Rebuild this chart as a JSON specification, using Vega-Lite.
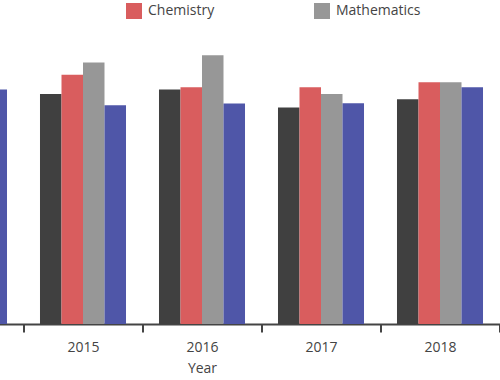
{
  "$schema": "https://vega.github.io/schema/vega-lite/v6.json",
  "width": 595,
  "height": 300,
  "autosize": {"type": "none"},
  "padding": {"left": -95.5, "top": 24, "right": 0, "bottom": 56},
  "background": "white",
  "config": {"view": {"stroke": null}, "font": "Open Sans"},
  "data": {
    "values": [
      {"Year": "2014", "Subject": "Physics", "Score": 75.0},
      {"Year": "2014", "Subject": "Chemistry", "Score": 80.0},
      {"Year": "2014", "Subject": "Mathematics", "Score": 84.0},
      {"Year": "2014", "Subject": "Biology", "Score": 78.2},
      {"Year": "2015", "Subject": "Physics", "Score": 76.7},
      {"Year": "2015", "Subject": "Chemistry", "Score": 83.1},
      {"Year": "2015", "Subject": "Mathematics", "Score": 87.2},
      {"Year": "2015", "Subject": "Biology", "Score": 72.9},
      {"Year": "2016", "Subject": "Physics", "Score": 78.2},
      {"Year": "2016", "Subject": "Chemistry", "Score": 78.9},
      {"Year": "2016", "Subject": "Mathematics", "Score": 89.6},
      {"Year": "2016", "Subject": "Biology", "Score": 73.5},
      {"Year": "2017", "Subject": "Physics", "Score": 72.2},
      {"Year": "2017", "Subject": "Chemistry", "Score": 78.9},
      {"Year": "2017", "Subject": "Mathematics", "Score": 76.7},
      {"Year": "2017", "Subject": "Biology", "Score": 73.6},
      {"Year": "2018", "Subject": "Physics", "Score": 74.9},
      {"Year": "2018", "Subject": "Chemistry", "Score": 80.6},
      {"Year": "2018", "Subject": "Mathematics", "Score": 80.6},
      {"Year": "2018", "Subject": "Biology", "Score": 78.9}
    ]
  },
  "mark": {"type": "bar"},
  "encoding": {
    "x": {
      "field": "Year",
      "type": "nominal",
      "scale": {"paddingInner": 0, "paddingOuter": 0},
      "axis": {
        "title": "Year",
        "labelAngle": 0,
        "tickBand": "extent",
        "domainColor": "#444444",
        "domainWidth": 2,
        "tickColor": "#444444",
        "tickWidth": 2,
        "tickSize": 8,
        "labelFont": "Open Sans",
        "labelFontSize": 14,
        "labelColor": "#444444",
        "labelPadding": 8,
        "titleFont": "Open Sans",
        "titleFontSize": 14,
        "titleFontWeight": "normal",
        "titleColor": "#444444",
        "titlePadding": 7
      }
    },
    "xOffset": {
      "field": "Subject",
      "type": "nominal",
      "sort": ["Physics", "Chemistry", "Mathematics", "Biology"],
      "scale": {"paddingInner": 0, "paddingOuter": 0.767}
    },
    "y": {
      "field": "Score",
      "type": "quantitative",
      "scale": {"domain": [0, 100]},
      "axis": null
    },
    "color": {
      "field": "Subject",
      "type": "nominal",
      "scale": {
        "domain": ["Chemistry", "Mathematics", "Biology", "Physics"],
        "range": ["#d95d5e", "#979797", "#4f56a8", "#404040"]
      },
      "legend": {
        "orient": "none",
        "legendX": 221.5,
        "legendY": -21,
        "direction": "horizontal",
        "title": null,
        "symbolType": "square",
        "symbolSize": 256,
        "symbolStrokeWidth": 0,
        "symbolOpacity": 1,
        "labelFont": "Open Sans",
        "labelFontSize": 14,
        "labelColor": "#444444",
        "labelOffset": 6,
        "columnPadding": 81,
        "gridAlign": "all"
      }
    }
  }
}
